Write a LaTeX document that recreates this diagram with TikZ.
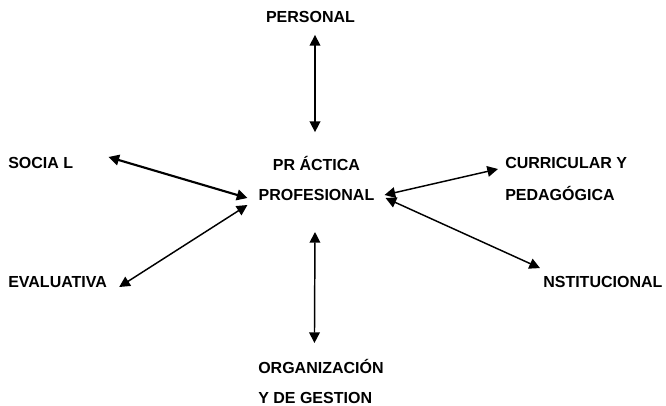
\documentclass[tikz,border=0pt]{standalone}
\usepackage{fontspec}
\setmainfont{Liberation Sans}
\usetikzlibrary{arrows.meta, calc}
\tikzset{
    label/.style={inner sep=0pt, font=\fontsize{12}{22.5}\selectfont\bfseries},
    link/.style={line width=1.1pt, {Triangle[length=8pt,width=8pt]}-{Triangle[length=8pt,width=8pt]}},
    boldlink/.style={link, line width=1.6pt}
}

\begin{document}
\begin{tikzpicture}[x=0.75pt, y=-0.75pt]
        \useasboundingbox (0, 0) rectangle (666, 406);
        \node[label] (personal) at (310.5, 17) {PERSONAL};
        \node[label, align=center, anchor=south] (practica) at (316.5, 201) {PR ÁCTICA\\PROFESIONAL};
        \node[label, anchor=west] (social) at (8, 163) {SOCIA L};
        \node[label, anchor=west] (evaluativa) at (8, 282) {EVALUATIVA};
        \node[label, align=left, anchor=north west] (curricular) at (505, 157) {CURRICULAR Y\\[1.5pt]PEDAGÓGICA};
        \node[label, anchor=west] (institucional) at (543, 282) {NSTITUCIONAL};
        \node[label, align=left, anchor=north west] (organizacion) at (258, 359) {ORGANIZACIÓN\\Y DE GESTION};
        \draw[link] ([shift={(4.5, 12)}]personal.south) -- ([shift={(-1.5, -24)}]practica.north);
        \draw[boldlink] ([shift={(35, -6)}]social.east) -- ([shift={(-11, -3)}]practica.south west);
        \draw[link] ([shift={(12, 5)}]evaluativa.east) -- ([shift={(-11, 4)}]practica.south west);
        \draw[link] ([shift={(-7, 12)}]curricular.north west) -- ([shift={(10, -6)}]practica.south east);
        \draw[link] ([shift={(-3, -8)}]institucional.north west) -- ([shift={(11, -3)}]practica.south east);
        \draw[link] ([shift={(-6.5, -16)}]organizacion.north) -- ([shift={(-1.5, 31)}]practica.south);
    \end{tikzpicture}
\end{document}
